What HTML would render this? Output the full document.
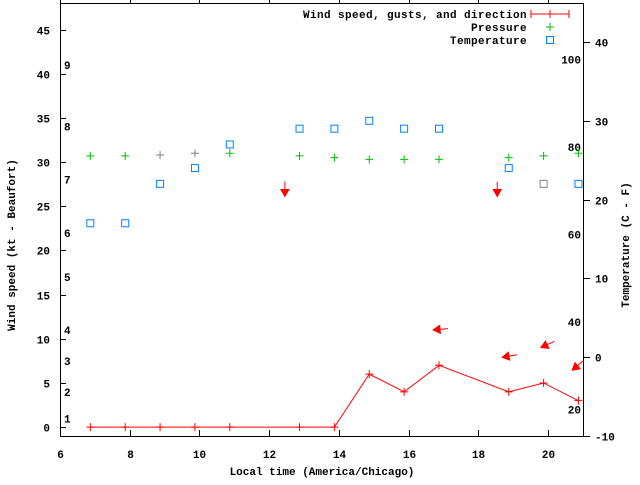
<!DOCTYPE html>
<html><head><meta charset="utf-8"><style>
body{margin:0;background:#fff}
svg text{font-family:"Liberation Mono",monospace;font-size:11px;font-weight:bold;fill:#000}
.leg{letter-spacing:0.4px}
</style></head><body>
<svg id="c" width="640" height="480" xmlns="http://www.w3.org/2000/svg">
<g id="axes"></g>
<g id="marks"></g>
<text x="15" y="245" text-anchor="middle" transform="rotate(-90 15 245)">Wind speed (kt - Beaufort)</text>
<text x="629" y="245" text-anchor="middle" transform="rotate(-90 629 245)">Temperature (C - F)</text>
<text x="322" y="475" text-anchor="middle">Local time (America/Chicago)</text>
<g>
<text class="leg" x="527" y="18" text-anchor="end">Wind speed, gusts, and direction</text>
<path d="M531 14H569M531 10V18M569 10V18M550 10V18" stroke="#ff0000" stroke-width="1" fill="none"/>
<text class="leg" x="527" y="31" text-anchor="end">Pressure</text>
<path d="M550 23V31M546 27H554" stroke="#00c000"/>
<text class="leg" x="527" y="44" text-anchor="end">Temperature</text>
<rect x="546.5" y="36.5" width="7" height="7" fill="none" stroke="#0080ff"/>
</g>
</svg>
<script>
const times=[6.87,7.87,8.87,9.87,10.87,12.87,13.87,14.87,15.87,16.87,18.87,19.87,20.87];
const wind=[0,0,0,0,0,0,0,6,4,7,4,5,3];
const presTimes=[6.87,7.87,8.87,9.87,10.87,12.87,13.87,14.87,15.87,16.87,18.87,19.87,20.87];
const pressure=[30.7,30.7,30.8,31.0,31.0,30.7,30.5,30.3,30.3,30.3,30.5,30.7,31.0];
const presGray=[0,0,1,1,0,0,0,0,0,0,0,0,0];
const tempTimes=[6.87,7.87,8.87,9.87,10.87,12.87,13.87,14.87,15.87,16.87,18.87,19.87,20.87];
const tempC=[17,17,22,24,27,29,29,30,29,29,24,22,22];
const tempGray=[0,0,0,0,0,0,0,0,0,0,0,1,0];
const arrowTimes=[12.45,18.54,16.70,18.68,19.79,20.69];
const arrowSpeed=[26.1,26.1,11.0,7.9,9.0,6.45];
const arrowDir=[180,180,265,260,245,230];
const xTicks=[6,8,10,12,14,16,18,20];
const yTicks=[0,5,10,15,20,25,30,35,40,45];
const y2Ticks=[-10,0,10,20,30,40];
const fTicks=[20,40,60,80,100];
const beaufort=[1,2,3,4,5,6,7,8,9];
const beaufortKt=[1,4,7.5,11,17,22,28,34,41];

const L=60,R=583,T=3,B=436;
const X=t=>L+(t-6)/(21-6)*(R-L);
const Y=v=>B-(v+1)/49*(B-T);
const Y2=c=>B-(c+10)/(44.95+10)*(B-T);
const NS='http://www.w3.org/2000/svg';
function mk(tag,at,parent){const e=document.createElementNS(NS,tag);for(const k in at)e.setAttribute(k,at[k]);document.getElementById(parent).appendChild(e);return e;}
function txt(x,y,s,anchor,parent){const e=mk('text',{x:x,y:y,'text-anchor':anchor},parent);e.textContent=s;return e;}

let e=mk('rect',{x:L+.5,y:T+.5,width:R-L,height:B-T,fill:'none',stroke:'#000'},'axes');


xTicks.forEach(t=>{const x=Math.round(X(t))+.5;
 let l=mk('path',{d:`M${x} ${B}v-6M${x} ${T}v-6`,stroke:'#000'},'axes');
 
 
 let s=txt(x,B+22,String(t),'middle','axes');
 
 });
yTicks.forEach(v=>{const y=Math.round(Y(v))+.5;
 let l=mk('path',{d:`M${L} ${y}h6`,stroke:'#000'},'axes');
 
 
 let s=txt(L-10,y+4,String(v),'end','axes');
 
 });
y2Ticks.forEach(c=>{const y=Math.round(Y2(c))+.5;
 let l=mk('path',{d:`M${R} ${y}h7`,stroke:'#000'},'axes');
 
 
 let s=txt(R+12,y+4,String(c),'start','axes');
 
 });
fTicks.forEach(f=>{const y=Y2((f-32)*5/9);
 let s=txt(R-2,y+4,String(f),'end','axes');
 
 });
beaufort.forEach((b,i)=>{const y=Y(beaufortKt[i]);
 let s=txt(64,y+4,String(b),'start','axes');
 
 });

let d=times.map((t,i)=>(i?'L':'M')+X(t)+' '+Y(wind[i])).join('');
let ln=mk('path',{d:d,stroke:'#ff0000',fill:'none','stroke-width':1},'marks');


times.forEach((t,i)=>{const x=X(t),y=Y(wind[i]);
 let p=mk('path',{d:`M${x-4} ${y}h8M${x} ${y-4}v8`,stroke:'#ff0000'},'marks');
 
 });
presTimes.forEach((t,i)=>{const x=X(t),y=Y(pressure[i]);
 let p=mk('path',{d:`M${x-4} ${y}h8M${x} ${y-4}v8`,stroke:presGray[i]?'#808080':'#00c000'},'marks');
 
 });
tempTimes.forEach((t,i)=>{const x=X(t),y=Y2(tempC[i]);
 let p=mk('rect',{x:x-3.5,y:y-3.5,width:7,height:7,fill:'none',stroke:tempGray[i]?'#808080':'#0080ff'},'marks');
 
 });
arrowTimes.forEach((t,i)=>{const hx=X(t),hy=Y(arrowSpeed[i]);const a=arrowDir[i]*Math.PI/180;
 const ux=Math.sin(a),uy=-Math.cos(a);const len=15;
 const tx=hx-ux*len,ty=hy-uy*len;
 const bx=hx-ux*7,by=hy-uy*7,px=-uy,py=ux;
 let g=mk('path',{d:`M${tx} ${ty}L${hx} ${hy}M${hx} ${hy}L${bx+px*4} ${by+py*4}L${bx-px*4} ${by-py*4}Z`,stroke:'#ff0000',fill:'#ff0000'},'marks');
 
 });
</script>
</body></html>
